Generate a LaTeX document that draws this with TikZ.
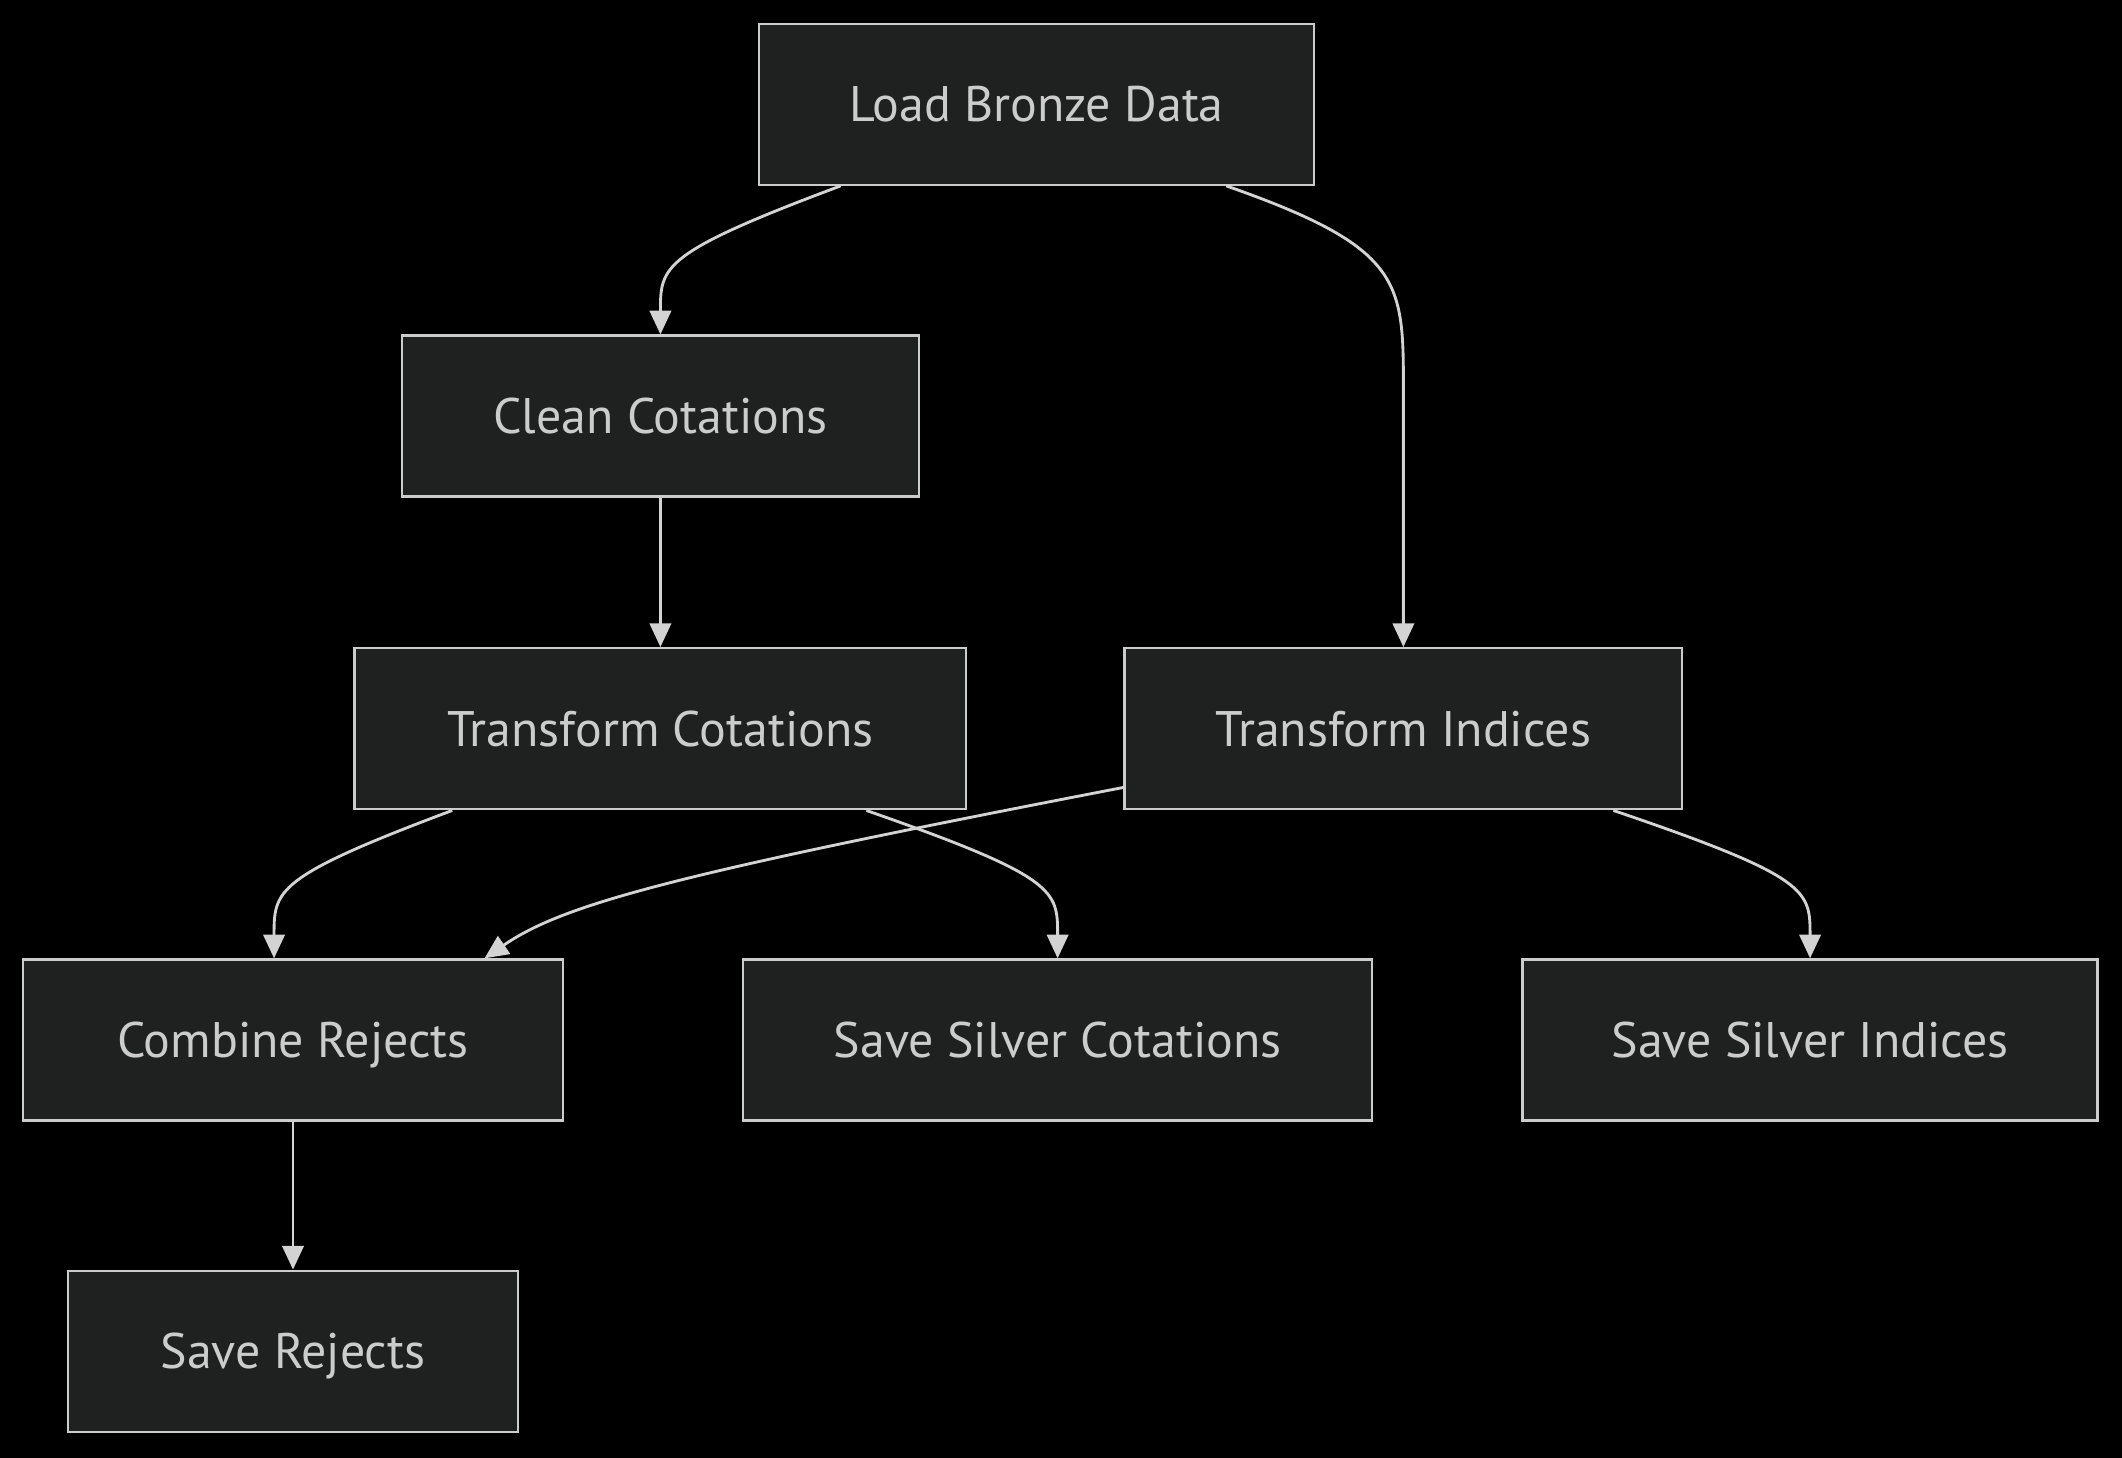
\documentclass[tikz,border=0pt]{standalone}
\usepackage{fontspec}
\setmainfont{PT Sans}
\usetikzlibrary{arrows.meta,calc}
\definecolor{boxfill}{HTML}{1F2020}
\definecolor{boxline}{HTML}{CCCCCC}
\definecolor{txt}{HTML}{CCCCCC}
\definecolor{edge}{HTML}{D3D3D3}
\begin{document}
\begin{tikzpicture}[x=0.02cm,y=-0.02cm,
  box/.style={draw=boxline,fill=boxfill,line width=1pt,text=txt,
    font=\fontsize{21}{25}\selectfont,minimum height=2.38cm,inner sep=0pt,
    text height=1.45em,text depth=0pt},
  conn/.style={draw=edge,line width=1.2pt,-{Triangle[length=10pt,width=9pt]}}]
\fill[black] (0,0) rectangle (1568,1077);
\useasboundingbox (0,0) rectangle (1568,1077);
\node[box,minimum width=8.2cm]  (load)  at (766,77)    {Load Bronze Data};
\node[box,minimum width=7.64cm] (clean) at (488,307.5) {Clean Cotations};
\node[box,minimum width=9.04cm] (tcot)  at (488,538.5) {Transform Cotations};
\node[box,minimum width=8.24cm] (tind)  at (1037,538.5){Transform Indices};
\node[box,minimum width=7.98cm] (comb)  at (216.5,768.5){Combine Rejects};
\node[box,minimum width=9.3cm]  (ssc)   at (781.5,768.5){Save Silver Cotations};
\node[box,minimum width=8.5cm]  (ssi)   at (1337.5,768.5){Save Silver Indices};
\node[box,minimum width=6.66cm] (srej)  at (216.5,998.5){Save Rejects};
% edges
\draw[conn] ($(load.south west)+(61,0)$) .. controls ($(clean.north)+(0,-60)$) and ($(clean.north)+(0,-50)$) .. (clean.north);
\draw[conn] ($(load.south west)+(346,0)$) .. controls ($(tind.north)+(0,-295)$) and ($(tind.north)+(0,-270)$) .. ($(tind.north)+(0,-190)$) -- (tind.north);
\draw[conn] (clean.south) -- (tcot.north);
\draw[conn] ($(tcot.south west)+(73,0)$) .. controls ($(comb.north)+(-14,-60)$) and ($(comb.north)+(-14,-50)$) .. ($(comb.north)+(-14,0)$);
\draw[conn] ($(tcot.south west)+(379,0)$) .. controls ($(ssc.north)+(0,-60)$) and ($(ssc.north)+(0,-50)$) .. (ssc.north);
\draw[conn] ($(tind.south west)+(0,-17)$) .. controls ($(comb.north)+(280,-62)$) and ($(comb.north)+(200,-40)$) .. ($(comb.north)+(141.5,0)$);
\draw[conn] ($(tind.south west)+(362,0)$) .. controls ($(ssi.north)+(0,-60)$) and ($(ssi.north)+(0,-50)$) .. (ssi.north);
\draw[conn] (comb.south) -- (srej.north);
\end{tikzpicture}
\end{document}
